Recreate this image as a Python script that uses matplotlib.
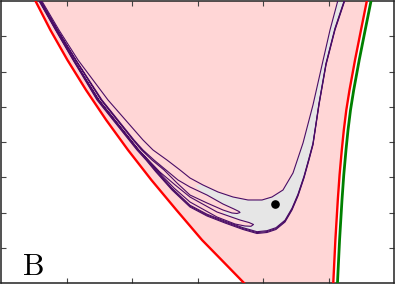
import matplotlib
matplotlib.use("Agg")
import matplotlib.pyplot as plt
import matplotlib.transforms as mtransforms
import numpy as np

plt.rcParams['mathtext.fontset'] = 'cm'

# ---- data (axis units: x 0..6, y 0..8) ----
red_left_x = [0.519, 0.754, 1.014, 1.298, 1.606, 1.939, 2.296, 2.678, 3.069, 3.368, 3.710]
red_left_y = [8.028, 7.177, 6.326, 5.475, 4.624, 3.773, 2.922, 2.071, 1.220, 0.652, 0.0]

red_right_x = [5.588, 5.496, 5.405, 5.321, 5.272, 5.234, 5.203, 5.169, 5.142, 5.105, 5.073]
red_right_y = [8.028, 7.177, 6.326, 5.475, 4.908, 4.340, 3.773, 3.064, 2.355, 1.220, 0.0]

green_x = [5.652, 5.560, 5.469, 5.385, 5.336, 5.298, 5.267, 5.233, 5.206, 5.169, 5.137]
green_y = [8.028, 7.177, 6.326, 5.475, 4.908, 4.340, 3.773, 3.064, 2.355, 1.220, 0.0]

lineA_x = [0.615, 0.885, 1.176, 1.634, 2.168, 2.321, 2.534, 2.733, 2.885, 3.084, 3.313, 3.542,
           3.771, 3.985, 4.137, 4.305, 4.458, 4.611, 4.763, 4.901, 5.023, 5.145]
lineA_y = [8.028, 7.177, 6.326, 5.191, 4.057, 3.773, 3.489, 3.206, 2.979, 2.780, 2.582, 2.440,
           2.355, 2.355, 2.440, 2.638, 3.121, 3.972, 5.050, 6.184, 7.177, 8.028]

f1_upper_x = [0.600, 0.865, 1.145, 1.542, 2.031, 2.168, 2.336, 2.519, 2.702, 2.885, 3.145, 3.389, 3.557, 3.634]
f1_upper_y = [8.028, 7.177, 6.326, 5.191, 4.057, 3.773, 3.489, 3.206, 2.922, 2.723, 2.496, 2.241, 2.099, 2.028]
f1_tip = (3.649, 2.000)
f1_lower_x = [0.595, 0.860, 1.137, 1.527, 2.015, 2.145, 2.305, 2.489, 2.687, 2.885, 3.145, 3.389, 3.527, 3.603]
f1_lower_y = [8.028, 7.177, 6.326, 5.191, 4.057, 3.773, 3.489, 3.206, 2.837, 2.496, 2.270, 2.071, 1.986, 1.972]

f2_upper_x = [0.585, 0.845, 1.112, 1.496, 1.982, 2.104, 2.250, 2.425, 2.660, 2.885, 3.298, 3.649, 3.786]
f2_upper_y = [8.028, 7.177, 6.326, 5.191, 4.057, 3.773, 3.489, 3.149, 2.780, 2.440, 2.014, 1.787, 1.716]
f2_tip = (3.855, 1.660)
f2_lower_x = [0.580, 0.840, 1.108, 1.490, 1.975, 2.098, 2.240, 2.405, 2.641, 2.885, 3.298, 3.573, 3.725, 3.817]
f2_lower_y = [8.028, 7.177, 6.326, 5.191, 4.057, 3.773, 3.489, 3.149, 2.695, 2.298, 1.872, 1.674, 1.617, 1.609]

bottom_x = [0.573, 0.832, 1.099, 1.466, 1.954, 2.076, 2.214, 2.366, 2.611, 2.885, 3.145, 3.420, 3.695,
            3.908, 4.061, 4.198, 4.336, 4.443, 4.534, 4.626, 4.702, 4.763, 4.855, 4.962, 5.099, 5.252]
bottom_y = [8.028, 7.177, 6.326, 5.191, 4.057, 3.773, 3.489, 3.149, 2.638, 2.156, 1.901, 1.702, 1.518,
            1.404, 1.433, 1.518, 1.730, 2.071, 2.468, 2.979, 3.489, 3.915, 5.050, 6.184, 7.177, 8.028]

gray_x = [2.962, 3.084, 3.313, 3.542, 3.771, 3.985, 4.137, 4.305, 4.458, 4.611, 4.763, 4.901, 5.023, 5.145,
          5.252, 5.099, 4.962, 4.855, 4.763, 4.702, 4.626, 4.534, 4.443, 4.336, 4.198, 4.061, 3.908, 3.695,
          3.618, 3.725, 3.817, 3.855, 3.786, 3.649, 3.466,
          3.374, 3.466, 3.527, 3.603, 3.649, 3.634, 3.557, 3.389, 3.145, 3.084]
gray_y = [2.780, 2.780, 2.582, 2.440, 2.355, 2.355, 2.440, 2.638, 3.121, 3.972, 5.050, 6.184, 7.177, 8.028,
          8.028, 7.177, 6.184, 5.050, 3.915, 3.489, 2.979, 2.468, 2.071, 1.730, 1.518, 1.433, 1.404, 1.518,
          1.617, 1.617, 1.609, 1.660, 1.716, 1.787, 1.901,
          2.023, 2.023, 1.986, 1.972, 2.000, 2.028, 2.099, 2.241, 2.496, 2.550]

dot_x = [4.176]
dot_y = [2.241]

label = 'B'

# ---- styles ----
pink = '#ffd6d6'
gray = '#e6e6e6'
purple = '#4a0d66'

fig = plt.figure(figsize=(3.95, 2.86), dpi=100)
ax = fig.add_axes([1/395, 3/286, 393/395, 282/286])

# pink band between red curves
ax.fill(np.concatenate([red_left_x, red_right_x[::-1]]),
        np.concatenate([red_left_y, red_right_y[::-1]]),
        color=pink, lw=0, zorder=1)

# gray region
ax.fill(gray_x, gray_y, color=gray, lw=0, zorder=2)

# purple contours
plw = 0.8
ax.plot(lineA_x, lineA_y, color=purple, lw=plw, zorder=3)
f1x = f1_upper_x + [f1_tip[0]] + f1_lower_x[::-1]
f1y = f1_upper_y + [f1_tip[1]] + f1_lower_y[::-1]
ax.plot(f1x, f1y, color=purple, lw=plw, zorder=3)
f2x = f2_upper_x + [f2_tip[0]] + f2_lower_x[::-1]
f2y = f2_upper_y + [f2_tip[1]] + f2_lower_y[::-1]
ax.plot(f2x, f2y, color=purple, lw=plw, zorder=3)
for k in range(3):
    tr = mtransforms.offset_copy(ax.transData, fig=fig, x=0.0, y=0.65 * k, units='points')
    ax.plot(bottom_x, bottom_y, color=purple, lw=plw, zorder=3, transform=tr)

# red and green curves
ax.plot(red_left_x, red_left_y, color='#ff0000', lw=1.7, zorder=4)
ax.plot(red_right_x, red_right_y, color='#ff0000', lw=1.7, zorder=4)
ax.plot(green_x, green_y, color='#008000', lw=2.0, zorder=4)

# best-fit point
ax.plot(dot_x, dot_y, 'o', color='black', ms=5.2, zorder=5)

ax.text(0.053, 0.028, r'$\mathrm{%s}$' % label, transform=ax.transAxes,
        fontsize=22, va='baseline', ha='left', color='black')

ax.set_xlim(0, 6)
ax.set_ylim(0, 8)
ax.set_xticks(np.arange(1, 6))
ax.set_yticks(np.arange(1, 8))
ax.tick_params(direction='in', length=3.5, width=0.8, color='#444444',
               top=True, right=True, labelbottom=False, labelleft=False)
for s in ax.spines.values():
    s.set_linewidth(1.1)
    s.set_color('#222222')

fig.savefig('out.png', dpi=100)
